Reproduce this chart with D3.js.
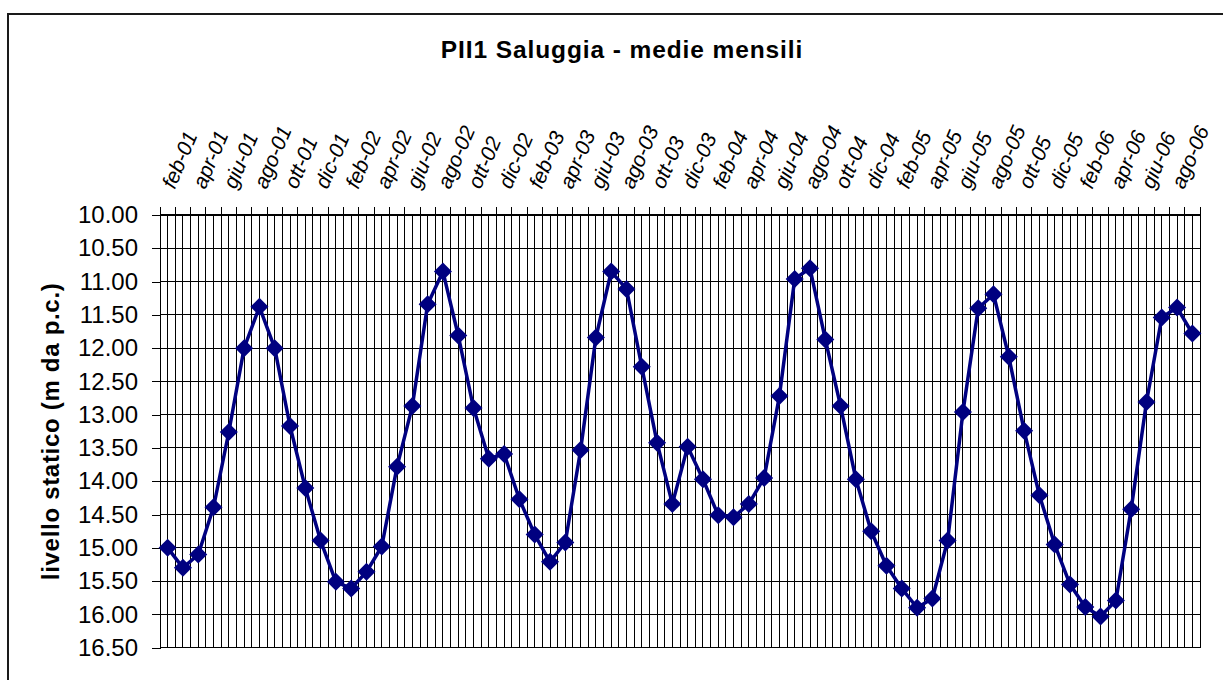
<!DOCTYPE html>
<html>
<head>
<meta charset="utf-8">
<script src="https://cdn.jsdelivr.net/npm/d3@7"></script>
<style>
  html, body { margin: 0; padding: 0; background: #fff; }
  svg { display: block; }
  text { font-family: "Liberation Sans", Arial, sans-serif; fill: #000; }
</style>
</head>
<body>
<svg id="chart" width="1223" height="680"></svg>
<script>
const categories = [
  "feb-01","mar-01","apr-01","mag-01","giu-01","lug-01","ago-01","set-01","ott-01","nov-01","dic-01",
  "gen-02","feb-02","mar-02","apr-02","mag-02","giu-02","lug-02","ago-02","set-02","ott-02","nov-02","dic-02",
  "gen-03","feb-03","mar-03","apr-03","mag-03","giu-03","lug-03","ago-03","set-03","ott-03","nov-03","dic-03",
  "gen-04","feb-04","mar-04","apr-04","mag-04","giu-04","lug-04","ago-04","set-04","ott-04","nov-04","dic-04",
  "gen-05","feb-05","mar-05","apr-05","mag-05","giu-05","lug-05","ago-05","set-05","ott-05","nov-05","dic-05",
  "gen-06","feb-06","mar-06","apr-06","mag-06","giu-06","lug-06","ago-06","set-06"
];
const livello = [
  15.00, 15.30, 15.10, 14.39, 13.26, 12.00, 11.38, 12.00, 13.17, 14.10, 14.89,
  15.51, 15.61, 15.36, 14.98, 13.78, 12.87, 11.34, 10.85, 11.81, 12.90, 13.66, 13.59,
  14.27, 14.80, 15.21, 14.92, 13.53, 11.84, 10.85, 11.11, 12.28, 13.42, 14.34, 13.48,
  13.97, 14.51, 14.54, 14.34, 13.95, 12.72, 10.96, 10.80, 11.87, 12.87, 13.97, 14.75,
  15.27, 15.61, 15.90, 15.76, 14.89, 12.96, 11.40, 11.19, 12.13, 13.24, 14.21, 14.95,
  15.55, 15.89, 16.03, 15.79, 14.42, 12.81, 11.54, 11.39, 11.78
];
const xTickLabels = [
  "feb-01","apr-01","giu-01","ago-01","ott-01","dic-01",
  "feb-02","apr-02","giu-02","ago-02","ott-02","dic-02",
  "feb-03","apr-03","giu-03","ago-03","ott-03","dic-03",
  "feb-04","apr-04","giu-04","ago-04","ott-04","dic-04",
  "feb-05","apr-05","giu-05","ago-05","ott-05","dic-05",
  "feb-06","apr-06","giu-06","ago-06"
];
const yTicks = [10.0, 10.5, 11.0, 11.5, 12.0, 12.5, 13.0, 13.5, 14.0, 14.5, 15.0, 15.5, 16.0, 16.5];
const title = "PII1 Saluggia - medie mensili";
const yTitle = "livello statico (m da p.c.)";

const svg = d3.select("#chart");
const L = 160, R = 1200, T = 215, B = 647.7;

// chart area border
svg.append("rect").attr("x", 8).attr("y", 14).attr("width", 1230).attr("height", 720)
  .attr("fill", "none").attr("stroke", "#1a1a1a").attr("stroke-width", 2);

const x = d3.scaleBand().domain(categories).range([L, R]).padding(0);
const bw = x.bandwidth();
const y = d3.scaleLinear().domain([d3.min(yTicks), d3.max(yTicks)]).range([T, B]);

// vertical gridlines at category boundaries and centers
const vgrid = svg.append("g").attr("shape-rendering", "crispEdges");
categories.forEach(c => {
  vgrid.append("line").attr("x1", x(c)).attr("x2", x(c)).attr("y1", T).attr("y2", B)
    .attr("stroke", "#000").attr("stroke-width", 1);
  vgrid.append("line").attr("x1", x(c) + bw / 2).attr("x2", x(c) + bw / 2).attr("y1", T).attr("y2", B)
    .attr("stroke", "#000").attr("stroke-width", 1);
});
vgrid.append("line").attr("x1", R).attr("x2", R).attr("y1", T).attr("y2", B)
  .attr("stroke", "#000").attr("stroke-width", 1);

// horizontal gridlines
svg.append("g").attr("shape-rendering", "crispEdges").selectAll("line").data(yTicks).join("line")
  .attr("x1", L).attr("x2", R).attr("y1", d => y(d)).attr("y2", d => y(d))
  .attr("stroke", "#000").attr("stroke-width", 1);

// top category axis line (thicker) and ticks
svg.append("line").attr("x1", L).attr("x2", R).attr("y1", T).attr("y2", T)
  .attr("stroke", "#000").attr("stroke-width", 2).attr("shape-rendering", "crispEdges");
const tickPos = categories.map(c => x(c)).concat([R]);
svg.append("g").attr("shape-rendering", "crispEdges").selectAll("line").data(tickPos).join("line")
  .attr("x1", d => d).attr("x2", d => d).attr("y1", T - 8).attr("y2", T)
  .attr("stroke", "#000").attr("stroke-width", 1);

// x labels (rotated, italic)
svg.append("g").selectAll("text").data(xTickLabels).join("text")
  .attr("transform", d => `translate(${x(d) + bw / 2 + 7},${190}) rotate(-67)`)
  .attr("text-anchor", "start")
  .style("font-size", "21px").style("font-style", "italic")
  .text(d => d);

// y axis
const yAxis = d3.axisLeft(y).tickValues(yTicks).tickFormat(d3.format(".2f")).tickSize(8).tickPadding(14);
const gy = svg.append("g").attr("transform", `translate(${L},0)`).call(yAxis);
gy.select(".domain").attr("stroke", "#000").attr("shape-rendering", "crispEdges");
gy.selectAll(".tick line").attr("stroke", "#000").attr("shape-rendering", "crispEdges");
gy.selectAll(".tick text").style("font-size", "24px").style("font-family", "'Liberation Sans', Arial, sans-serif").attr("fill", "#000");

// line + markers
const line = d3.line().x((d, i) => x(categories[i]) + bw / 2).y(d => y(d));
svg.append("path").datum(livello).attr("d", line)
  .attr("fill", "none").attr("stroke", "#000080").attr("stroke-width", 3.5).attr("stroke-linejoin", "round");
svg.append("g").selectAll("path").data(livello).join("path")
  .attr("transform", (d, i) => `translate(${x(categories[i]) + bw / 2},${y(d)})`)
  .attr("d", "M0,-9L9,0L0,9L-9,0Z")
  .attr("fill", "#000080");

// title
svg.append("text").attr("x", 622).attr("y", 57.5).attr("text-anchor", "middle")
  .style("font-size", "24.5px").style("font-weight", "bold").style("letter-spacing", "0.9px")
  .text(title);

// y title
svg.append("text").attr("transform", `translate(59,${(T + B) / 2}) rotate(-90)`)
  .attr("text-anchor", "middle")
  .style("font-size", "24px").style("font-weight", "bold").style("letter-spacing", "0.7px")
  .text(yTitle);
</script>
</body>
</html>
